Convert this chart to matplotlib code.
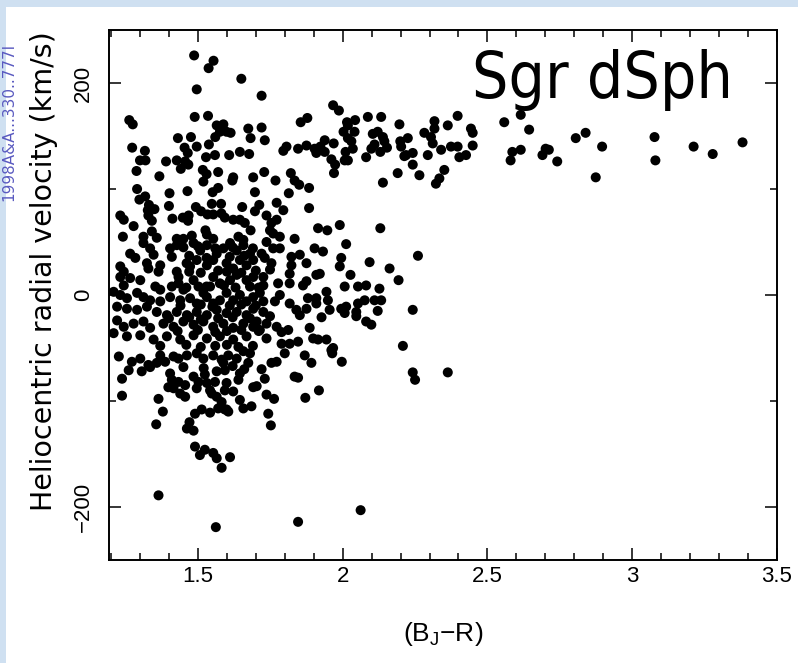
import matplotlib
matplotlib.use("Agg")
import matplotlib.pyplot as plt
from matplotlib.patches import Rectangle
from matplotlib.ticker import MultipleLocator

plt.rcParams['font.family'] = ['Liberation Sans', 'DejaVu Sans']
plt.rcParams['mathtext.default'] = 'regular'

# Sgr dSph sequence and upper field stars (BJ-R colour, velocity km/s)
upper_color = [1.487, 1.554, 1.537, 1.650, 1.496, 1.263, 1.275, 1.489, 1.535, 1.565, 1.588, 1.582, 1.674,
               1.720, 1.720, 1.855, 1.878, 1.967, 1.987, 2.015, 2.043, 2.087, 2.133, 2.196,
               1.273, 1.317, 1.300, 1.319, 1.288, 1.367, 1.390, 1.427, 1.431, 1.476, 1.454, 1.465, 1.496,
               1.441, 1.456, 1.467, 1.528, 1.538, 1.560, 1.576, 1.599, 1.613, 1.682, 1.608, 1.645, 1.677,
               1.517, 1.530, 1.519, 1.570, 1.622, 1.619, 1.691, 1.559, 2.018,
               1.731, 1.795, 1.806, 1.846, 1.875, 1.903, 1.909, 1.923, 1.938, 1.938, 1.969, 1.961, 1.974,
               1.970, 2.003, 2.018, 2.030, 2.041, 2.010, 2.035, 2.007, 2.018, 2.081, 2.104, 2.121, 2.139,
               2.144, 2.110, 2.099, 2.130, 2.153, 2.199, 2.213, 2.190, 2.139, 1.729, 1.768, 1.821, 1.834,
               1.850, 1.884,
               2.225, 2.202, 2.219, 2.242, 2.242, 2.265, 2.282, 2.305, 2.317, 2.317, 2.311, 2.294, 2.340,
               2.322, 2.334, 2.351, 2.363, 2.397, 2.374, 2.397, 2.403, 2.426, 2.443, 2.449, 2.449, 2.558,
               2.615, 2.644, 2.586, 2.580, 2.615, 2.690, 2.701, 2.712, 2.741, 2.805, 2.839, 2.874, 2.896,
               3.077, 3.080, 3.212, 3.278, 3.381]
upper_vel = [226, 221, 214, 204, 194, 165, 161, 168, 169, 160, 161, 158, 157,
             188, 158, 163, 167, 179, 174, 163, 165, 168, 168, 161,
             139, 136, 127, 127, 117, 112, 126, 127, 148, 149, 139, 134, 140,
             119, 126, 123, 130, 142, 149, 154, 154, 153, 148, 132, 135, 133,
             118, 114, 107, 116, 111, 108, 111, 132, 160,
             146, 136, 140, 138, 141, 138, 134, 140, 135, 146, 143, 128, 123,
             115, 154, 148, 145, 154, 135, 138, 127, 127, 130, 152, 154, 149,
             145, 142, 138, 135, 139, 145, 131, 115, 106, 116, 108, 115, 108,
             104, 101,
             148, 140, 132, 134, 123, 113, 153, 149, 164, 157, 143, 132, 137,
             105, 110, 118, 160, 169, 140, 140, 130, 132, 157, 153, 141, 163,
             170, 156, 135, 127, 137, 132, 138, 137, 126, 148, 153, 111, 140,
             149, 127, 140, 133, 144]

# field stars between +100 and +50 km/s
mid_color = [1.290, 1.298, 1.318, 1.402, 1.464, 1.570, 1.551, 1.331, 1.327, 1.350, 1.400, 1.493, 1.548,
             1.580, 1.653, 1.697, 1.697, 1.232, 1.244, 1.329, 1.341, 1.412, 1.448, 1.468, 1.466, 1.511,
             1.533, 1.553, 1.581, 1.593, 1.622, 1.645, 1.662, 1.682, 1.278, 1.241, 1.312, 1.341, 1.358,
             1.427, 1.450, 1.479, 1.526, 1.531, 1.553, 1.640, 1.657,
             1.814, 1.712, 1.772, 1.795, 1.737, 1.754, 1.772, 1.749, 1.760, 1.884, 1.915, 1.947, 1.990,
             2.130, 1.783, 1.834]
mid_vel = [100, 90, 93, 96, 98, 101, 97, 85, 80, 81, 84, 83, 86,
           86, 83, 97, 79, 75, 71, 75, 70, 72, 73, 75, 70, 79,
           76, 76, 77, 73, 71, 71, 68, 61, 65, 55, 55, 60, 54,
           53, 53, 56, 61, 57, 53, 55, 52,
           96, 85, 87, 80, 75, 68, 71, 61, 58, 82, 63, 61, 66,
           63, 55, 53]

# dense bulge core, +50 to -50 km/s
core_color = [1.266, 1.284, 1.312, 1.335, 1.347, 1.404, 1.427, 1.485, 1.508, 1.531, 1.565, 1.588, 1.611,
              1.634, 1.657, 1.680, 1.324, 1.329, 1.232, 1.244, 1.370, 1.364, 1.427, 1.433, 1.473, 1.461,
              1.496, 1.531, 1.553, 1.599, 1.622, 1.645, 1.668, 1.691, 1.232, 1.266, 1.301, 1.244, 1.353,
              1.370, 1.433, 1.450, 1.485, 1.502, 1.519, 1.553, 1.576, 1.542, 1.611, 1.634, 1.668, 1.691,
              1.209, 1.232, 1.255, 1.290, 1.312, 1.335, 1.370, 1.404, 1.439, 1.473, 1.496, 1.531, 1.553,
              1.576, 1.599, 1.622, 1.645, 1.668, 1.691, 1.221, 1.255, 1.290, 1.324, 1.358, 1.393, 1.427,
              1.462, 1.496, 1.531, 1.565, 1.599, 1.634, 1.668, 1.691, 1.221, 1.244, 1.278, 1.312, 1.335,
              1.381, 1.416, 1.450, 1.485, 1.519, 1.553, 1.588, 1.622, 1.657, 1.691, 1.209, 1.255, 1.301,
              1.347, 1.393, 1.439, 1.485, 1.531, 1.576, 1.622, 1.668,
              1.45, 1.50, 1.56, 1.62, 1.69, 1.41, 1.47, 1.53, 1.61, 1.66, 1.47, 1.51, 1.57, 1.60, 1.65,
              1.70, 1.41, 1.46, 1.53, 1.59, 1.63, 1.68, 1.71, 1.44, 1.51, 1.55, 1.61, 1.65, 1.70, 1.40,
              1.47, 1.51, 1.57, 1.62, 1.68, 1.43, 1.50, 1.56, 1.60, 1.65, 1.71, 1.37, 1.46, 1.51, 1.56,
              1.60, 1.64, 1.69,
              1.737, 1.760, 1.783, 1.720, 1.731, 1.754, 1.749, 1.823, 1.823, 1.852, 1.875, 1.903, 1.932,
              2.012, 1.995, 1.990, 2.093, 2.162, 2.193, 2.027, 1.909, 1.921, 1.875, 1.863, 1.817, 1.817,
              1.777, 1.726, 1.726, 2.007, 2.053, 2.081, 2.127, 1.944, 1.880, 1.909, 1.909, 1.949, 1.955,
              1.783, 1.766, 1.714, 1.726, 1.817, 1.840, 1.852, 1.875, 1.995, 2.012, 2.053, 2.076, 2.110,
              2.133, 2.121, 2.047, 2.081, 2.099, 1.927, 1.886, 1.726, 1.749, 1.737, 1.772, 1.789, 1.703,
              1.714, 1.737, 1.789, 1.817, 1.846, 1.812, 1.898, 1.915, 1.944, 2.208, 1.967, 2.007, 2.047,
              2.260, 2.242]
core_vel = [39, 35, 49, 44, 38, 44, 47, 49, 42, 47, 39, 44, 49,
            42, 47, 39, 30, 25, 27, 22, 28, 22, 22, 17, 27, 30,
            33, 28, 33, 30, 25, 33, 28, 33, 17, 16, 14, 9, 8,
            5, 11, 5, 14, 8, 2, 17, 11, 8, 14, 19, 14, 17,
            3, 0, -3, 2, -2, -5, -6, -2, -5, -3, -8, -2, -8,
            -5, 2, -5, 0, -6, -2, -11, -13, -14, -11, -16, -19, -16,
            -19, -16, -19, -14, -17, -16, -19, -13, -24, -30, -27, -25, -31,
            -27, -30, -25, -28, -25, -30, -27, -31, -27, -30, -36, -39, -38,
            -42, -39, -42, -38, -41, -39, -42, -39,
            45, 46, 44, 45, 44, 36, 37, 35, 36, 37, 22, 21, 23, 22, 21,
            23, 8, 7, 8, 9, 7, 8, 7, -10, -9, -11, -10, -9, -10, -22,
            -21, -23, -22, -21, -22, -34, -33, -35, -34, -33, -34, -48, -47, -49, -48,
            -47, -49, -48,
            50, 44, 44, 39, 35, 30, 24, 36, 28, 38, 30, 44, 41,
            48, 35, 27, 31, 25, 14, 19, 19, 20, 13, 9, 20, 11,
            11, 17, 9, 8, 8, 9, 6, 3, -3, -3, -8, -5, -14,
            0, -6, 2, -6, -8, -14, -19, -13, -13, -11, -8, -5, -5,
            -5, -15, -20, -25, -28, -21, -31, -16, -20, -27, -30, -35, -25,
            -33, -41, -46, -46, -44, -33, -41, -42, -42, -48, -50, -17, -16,
            37, -14]

# low velocity tail
low_color = [1.227, 1.272, 1.301, 1.329, 1.358, 1.370, 1.387, 1.416, 1.433, 1.462, 1.496, 1.519, 1.553,
             1.582, 1.605, 1.634, 1.657, 1.680, 1.261, 1.306, 1.335, 1.674, 1.404, 1.410, 1.398, 1.416,
             1.433, 1.456, 1.439, 1.456, 1.485, 1.502, 1.496, 1.524, 1.531, 1.542, 1.565, 1.559, 1.548,
             1.565, 1.582, 1.599, 1.599, 1.593, 1.588, 1.593, 1.645, 1.640, 1.622, 1.645, 1.657, 1.685,
             1.691, 1.238, 1.238, 1.364, 1.379, 1.356, 1.490, 1.513, 1.542, 1.570, 1.593, 1.605, 1.471,
             1.462, 1.485, 1.490, 1.524, 1.507, 1.553, 1.565, 1.611, 1.582,
             1.45, 1.52, 1.62, 1.66,
             1.743, 1.752, 1.737, 1.763, 1.871, 1.918, 1.834, 1.846, 1.731, 1.703, 1.720, 1.754, 1.772,
             1.800, 1.869, 1.892, 1.961, 1.964, 1.997, 2.242, 2.250, 2.363,
             1.364, 1.562, 1.846, 2.062]
low_vel = [-58, -63, -60, -66, -64, -57, -63, -58, -60, -57, -55, -60, -57,
           -61, -57, -60, -53, -55, -71, -72, -68, -64, -74, -80, -87, -88,
           -82, -85, -93, -96, -77, -82, -88, -75, -83, -90, -72, -82, -93,
           -96, -101, -108, -83, -90, -64, -71, -74, -80, -91, -99, -107, -105,
           -87, -79, -95, -98, -110, -122, -112, -108, -111, -107, -108, -110, -120,
           -126, -128, -143, -146, -151, -149, -154, -153, -163,
           -68, -69, -67, -70,
           -112, -123, -94, -98, -97, -90, -77, -78, -79, -86, -70, -64, -63,
           -55, -57, -64, -52, -55, -63, -73, -80, -73,
           -189, -219, -214, -203]

fig = plt.figure(figsize=(7.98, 6.63), dpi=100)
fig.patch.set_facecolor('white')

# light blue frame strips of the screenshot
fig.patches.append(Rectangle((0, 0), 6 / 798, 1, transform=fig.transFigure,
                             facecolor='#cfe0f1', edgecolor='none', zorder=0))
fig.patches.append(Rectangle((0, 1 - 7 / 663), 1, 7 / 663, transform=fig.transFigure,
                             facecolor='#cfe0f1', edgecolor='none', zorder=0))
fig.text(9 / 798, 1 - 122 / 663, '1998A&A...330..777I', rotation=90, color='#5a5ac0',
         fontsize=11, ha='center', va='center', family='DejaVu Sans')

ax = fig.add_axes([109 / 798, 1 - 560 / 663, 668 / 798, 530 / 663])

for c, v in [(upper_color, upper_vel), (mid_color, mid_vel),
             (core_color, core_vel), (low_color, low_vel)]:
    ax.scatter(c, v, s=52, c='black', edgecolors='none', zorder=3)

ax.set_xlim(1.193, 3.5)
ax.set_ylim(-250, 250)
ax.xaxis.set_minor_locator(MultipleLocator(0.1))
ax.yaxis.set_minor_locator(MultipleLocator(100))
ax.set_xticks([1.5, 2, 2.5, 3, 3.5])
ax.set_xticklabels(['1.5', '2', '2.5', '3', '3.5'])
ax.set_yticks([-200, 0, 200])
ax.set_yticklabels(['\u2212200', '0', '200'])

ax.tick_params(which='both', direction='in', top=True, right=True, width=1.1)
ax.tick_params(which='major', length=8.5)
ax.tick_params(which='minor', length=5)
ax.tick_params(axis='x', labelsize=16, pad=4)
ax.tick_params(axis='y', labelsize=16, pad=11, labelrotation=90)
for lbl in ax.get_yticklabels():
    lbl.set_va('center')
for sp in ax.spines.values():
    sp.set_linewidth(1.4)

fig.text(443 / 798, 1 - 634 / 663, '(B$_J$\u2212R)', fontsize=19, ha='center', va='center')
fig.text(44 / 798, 1 - 271 / 663, 'Heliocentric radial velocity (km/s)', fontsize=20.5,
         rotation=90, ha='center', va='center', family='DejaVu Sans')

fig.text(472 / 798, 1 - 98 / 663, 'Sgr dSph', fontsize=46, ha='left', va='baseline',
         family='DejaVu Sans', fontstretch='condensed')

fig.savefig('out.png', dpi=100)
